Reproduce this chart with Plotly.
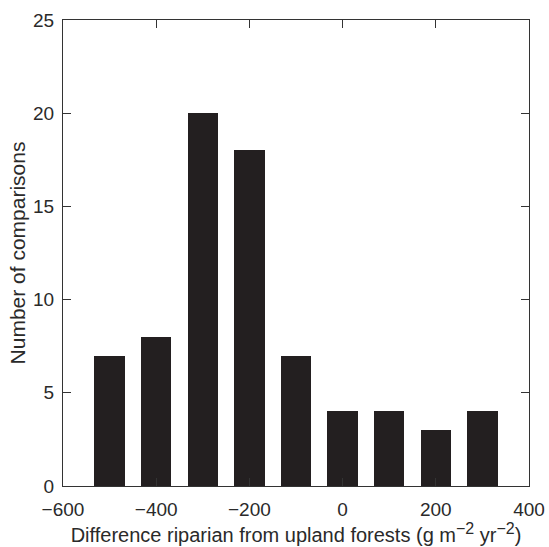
import plotly.graph_objects as go

bin_centers = [-500, -400, -300, -200, -100, 0, 100, 200, 300]
counts = [7, 8, 20, 18, 7, 4, 4, 3, 4]
x_ticks = [-600, -400, -200, 0, 200, 400]
x_tick_labels = ["\u2212600", "\u2212400", "\u2212200", "0", "200", "400"]
y_ticks = [0, 5, 10, 15, 20, 25]

FONT = "Liberation Sans, Arial, Helvetica"
TXT = "#2a2a2a"

fig = go.Figure()
fig.add_trace(go.Bar(x=bin_centers, y=counts, width=65,
                     marker=dict(color="#231f20", line=dict(width=0))))

axis_common = dict(showline=True, linecolor="#333", linewidth=1.3, mirror="ticks",
                   ticks="inside", ticklen=8, tickwidth=1.3, tickcolor="#333",
                   showgrid=False, zeroline=False, automargin=False,
                   tickfont=dict(family=FONT, size=19, color=TXT))

sup = lambda s: "<sup><span style='font-size:16px'>" + s + "</span></sup>"

fig.update_layout(
    width=549, height=547,
    margin=dict(l=63, r=20, t=20, b=61),
    paper_bgcolor="white", plot_bgcolor="white",
    showlegend=False, bargap=0,
    xaxis=dict(range=[-600, 400], tickvals=x_ticks, ticktext=x_tick_labels,
               ticklabelstandoff=6,
               title=dict(text="Difference riparian from upland forests (g m" + sup("\u22122") + " yr" + sup("\u22122") + ")",
                          font=dict(family=FONT, size=20, color=TXT), standoff=6),
               **axis_common),
    yaxis=dict(range=[0, 25], tickvals=y_ticks, ticklabelstandoff=4,
               title=dict(text="Number of comparisons",
                          font=dict(family=FONT, size=21, color=TXT), standoff=1),
               **axis_common),
)

fig.write_html("out.html")
